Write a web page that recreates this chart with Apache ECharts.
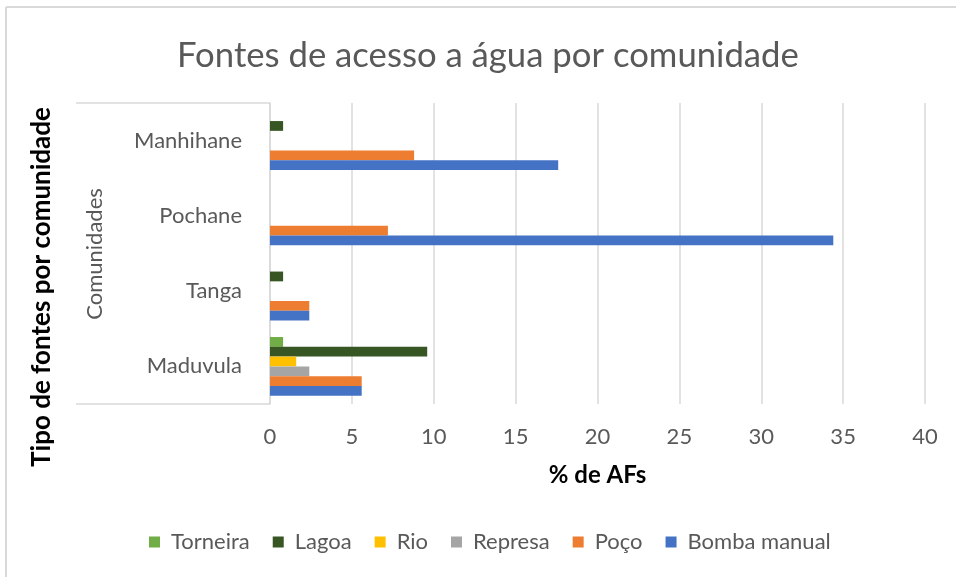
<!DOCTYPE html>
<html>
<head>
<meta charset="utf-8">
<script src="https://cdn.jsdelivr.net/npm/echarts@6/dist/echarts.min.js"></script>
<style>
  html, body { margin: 0; padding: 0; background: #fff; }
  #chart { width: 956px; height: 577px; }
</style>
</head>
<body>
<div id="chart"></div>
<script>
// comunidades, de baixo para cima
const communities = ['Maduvula', 'Tanga', 'Pochane', 'Manhihane'];
const xTicks = [0, 5, 10, 15, 20, 25, 30, 35, 40];

const torneira = [0.8, 0, 0, 0];
const lagoa = [9.6, 0.8, 0, 0.8];
const rio = [1.6, 0, 0, 0];
const represa = [2.4, 0, 0, 0];
const poco = [5.6, 2.4, 7.2, 8.8];
const bomba = [5.6, 2.4, 34.4, 17.6];

const legendOrder = ['Torneira', 'Lagoa', 'Rio', 'Represa', 'Poço', 'Bomba manual'];

const font = 'Lato, "Open Sans", sans-serif';
const grey = '#595959';

const grid = { left: 270, right: 31, top: 103, bottom: 173 };
const boxLeft = 76;
const gridBottomY = 577 - grid.bottom;

function bar(name, data, color) {
  return {
    name: name,
    type: 'bar',
    data: data,
    barGap: '0%',
    barCategoryGap: '22%',
    itemStyle: { color: color },
    emphasis: { disabled: true }
  };
}

const chart = echarts.init(document.getElementById('chart'));
chart.setOption({
  animation: false,
  backgroundColor: '#fff',
  textStyle: { fontFamily: font },
  title: {
    text: 'Fontes de acesso a água por comunidade',
    left: 172,
    top: 33,
    textStyle: { fontFamily: font, fontSize: 34.7, fontWeight: 'normal', color: grey }
  },
  legend: {
    data: legendOrder,
    bottom: 19,
    left: 144,
    itemWidth: 11,
    itemHeight: 11,
    itemGap: 23,
    icon: 'rect',
    textStyle: { fontFamily: font, fontSize: 22, color: grey, padding: [0, 0, 0, 6] }
  },
  grid: grid,
  xAxis: {
    type: 'value',
    min: xTicks[0],
    max: xTicks[xTicks.length - 1],
    interval: 5,
    name: '% de AFs',
    nameLocation: 'middle',
    nameGap: 59,
    nameTextStyle: { fontFamily: font, fontSize: 24, fontWeight: 'bold', color: '#000' },
    axisLine: { show: false },
    axisTick: { show: false },
    axisLabel: { fontFamily: font, fontSize: 22, color: grey, margin: 22 },
    splitLine: { lineStyle: { color: '#d9d9d9', width: 1.5 } }
  },
  yAxis: {
    type: 'category',
    data: communities,
    axisLine: { show: true, lineStyle: { color: '#d9d9d9', width: 1.5 } },
    axisTick: { show: false },
    axisLabel: { fontFamily: font, fontSize: 22, color: grey, margin: 28 }
  },
  graphic: [
    // borda do gráfico
    { type: 'line', shape: { x1: 6, y1: 7, x2: 956, y2: 7 }, style: { stroke: '#d9d9d9', lineWidth: 2 } },
    { type: 'line', shape: { x1: 6, y1: 7, x2: 6, y2: 577 }, style: { stroke: '#d9d9d9', lineWidth: 2 } },
    // caixa do eixo de categorias
    { type: 'line', shape: { x1: boxLeft, y1: grid.top, x2: grid.left, y2: grid.top }, style: { stroke: '#d9d9d9', lineWidth: 1.5 } },
    { type: 'line', shape: { x1: boxLeft, y1: gridBottomY, x2: grid.left, y2: gridBottomY }, style: { stroke: '#d9d9d9', lineWidth: 1.5 } },
    {
      type: 'text',
      x: 42,
      y: 287,
      rotation: Math.PI / 2,
      style: {
        text: 'Tipo de fontes por comunidade',
        fontFamily: font,
        fontSize: 26,
        fontWeight: 'bold',
        fill: '#000',
        align: 'center',
        verticalAlign: 'middle'
      }
    },
    {
      type: 'text',
      x: 95,
      y: 254,
      rotation: Math.PI / 2,
      style: {
        text: 'Comunidades',
        fontFamily: font,
        fontSize: 22,
        fill: grey,
        align: 'center',
        verticalAlign: 'middle'
      }
    }
  ],
  series: [
    bar('Torneira', torneira, '#70AD47'),
    bar('Lagoa', lagoa, '#375623'),
    bar('Rio', rio, '#FFC000'),
    bar('Represa', represa, '#A5A5A5'),
    bar('Poço', poco, '#ED7D31'),
    bar('Bomba manual', bomba, '#4472C4')
  ]
});
</script>
</body>
</html>
